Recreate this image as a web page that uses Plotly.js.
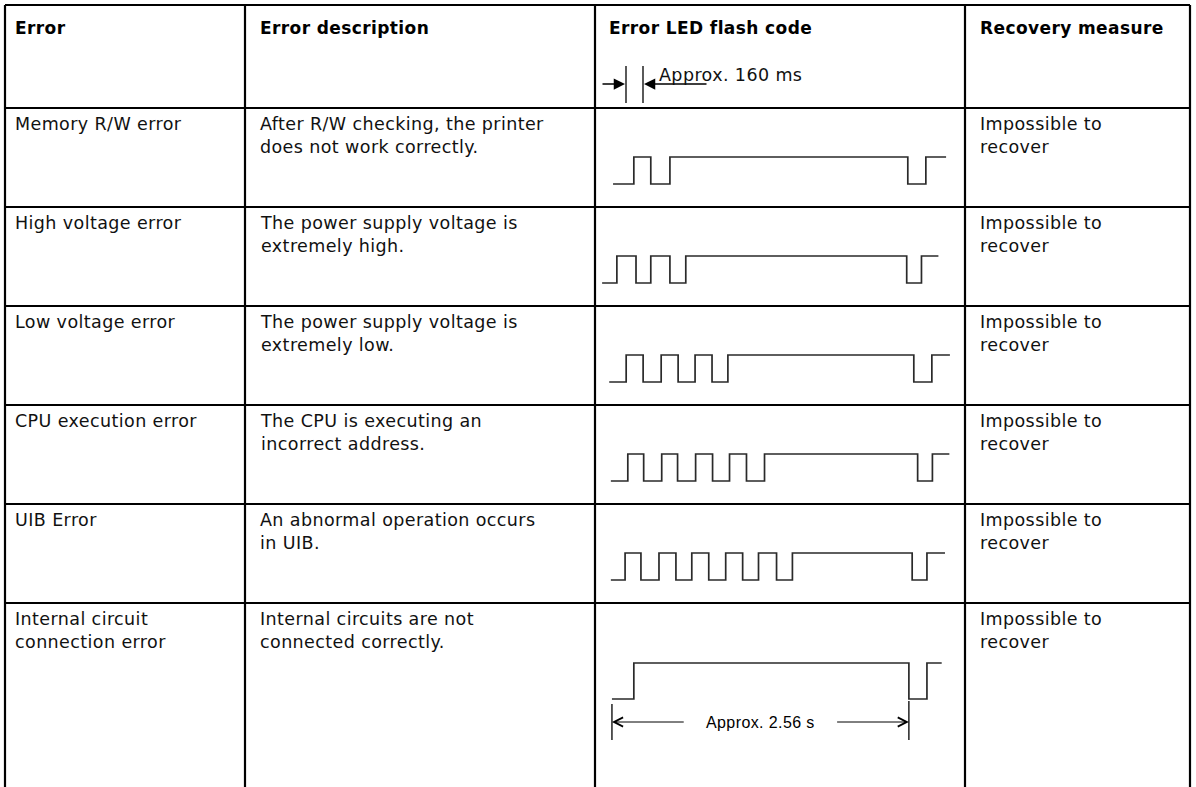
<!DOCTYPE html>
<html><head><meta charset="utf-8">
<script src="https://cdn.plot.ly/plotly-3.0.1.min.js"></script>
<style>html,body{margin:0;padding:0;background:#fff;overflow:hidden}#chart{width:1196px;height:787px}
.annotation-text{letter-spacing:0.4px}</style>
</head><body><div id="chart"></div>
<script>
// ---------------- data ----------------
const headers = ["Error", "Error description", "Error LED flash code", "Recovery measure"];
const errorNames = ["Memory R/W error", "High voltage error", "Low voltage error", "CPU execution error", "UIB Error", "Internal circuit<br>connection error"];
const descriptions = [
  "After R/W checking, the printer<br>does not work correctly.",
  "The power supply voltage is<br>extremely high.",
  "The power supply voltage is<br>extremely low.",
  "The CPU is executing an<br>incorrect address.",
  "An abnormal operation occurs<br>in UIB.",
  "Internal circuits are not<br>connected correctly."
];
const recovery = ["Impossible to<br>recover", "Impossible to<br>recover", "Impossible to<br>recover", "Impossible to<br>recover", "Impossible to<br>recover", "Impossible to<br>recover"];
// LED flash codes: start time (ms) and alternating segment durations (ms), starting LOW
const waveStartMs = [165, 65, 130, 145, 145, 155];
const memoryRW = [190, 155, 175, 2175, 165, 185];
const highVoltage = [135, 175, 135, 175, 145, 2020, 135, 155];
const lowVoltage = [155, 155, 165, 155, 155, 155, 145, 1700, 165, 165];
const cpuExecution = [155, 145, 165, 145, 165, 155, 155, 155, 165, 1400, 135, 155];
const uibError = [130, 145, 165, 155, 145, 155, 155, 155, 145, 165, 145, 1095, 135, 165];
const internalCircuit = [200, 2515, 165, 135];
const flashCodes = [memoryRW, highVoltage, lowVoltage, cpuExecution, uibError, internalCircuit];
const unitLabel = "Approx. 160 ms";
const periodLabel = "Approx. 2.56 s";

// ---------------- geometry (layout only) ----------------
const W = 1196, H = 787;
const colX = [5, 245, 595, 965, 1190];
const textX = [13, 258, 607, 978];
const topY = 5;
const rowY = [108, 207, 306, 405, 504, 603];
const waveHighPx = [157, 256, 355, 454, 553, 663];
const waveLowPx  = [184, 283, 382, 481, 580, 699];
const ledRangeMs = 3383; // width of LED column in ms
const FONT = "DejaVu Sans, Verdana, sans-serif";
const FS = 17.5;

const traces = [];
const layout = {
  width: W, height: H, margin: {l: 0, r: 0, t: 0, b: 0},
  paper_bgcolor: "#fff", plot_bgcolor: "rgba(0,0,0,0)",
  showlegend: false, dragmode: false, hovermode: false,
  xaxis: {range: [0, W], visible: false, domain: [0, 1], fixedrange: true},
  yaxis: {range: [H, 0], visible: false, domain: [0, 1], fixedrange: true},
  shapes: [], annotations: []
};

// table lines
const lineStyle = {color: "#000", width: 2.2};
layout.shapes.push({type: "line", xref: "x", yref: "y", x0: colX[0], x1: colX[4], y0: topY, y1: topY, line: lineStyle});
rowY.forEach(y => layout.shapes.push({type: "line", xref: "x", yref: "y", x0: colX[0], x1: colX[4], y0: y, y1: y, line: lineStyle}));
colX.forEach(x => layout.shapes.push({type: "line", xref: "x", yref: "y", x0: x, x1: x, y0: topY, y1: H + 2, line: lineStyle}));

// header text
headers.forEach((h, i) => layout.annotations.push({
  xref: "x", yref: "y", x: textX[i], y: topY + 23, xanchor: "left", yanchor: "middle",
  text: "<b>" + h + "</b>", showarrow: false, font: {family: FONT, size: 17, color: "#000"}
}));

// body text
function cellText(col, r, txt) {
  layout.annotations.push({
    xref: "x", yref: "y", x: textX[col], y: rowY[r] + 4, xanchor: "left", yanchor: "top",
    text: txt, showarrow: false, align: "left", font: {family: FONT, size: FS, color: "#111"}
  });
}
errorNames.forEach((t, r) => cellText(0, r, t));
descriptions.forEach((t, r) => cellText(1, r, t));
recovery.forEach((t, r) => cellText(3, r, t));

// waveforms
flashCodes.forEach((segs, r) => {
  const k = r + 2;
  const xs = [waveStartMs[r]], ys = [0];
  let t = waveStartMs[r], lvl = 0;
  segs.forEach((d, i) => {
    t += d; lvl = 1 - lvl;
    if (i < segs.length - 1) { xs.push(t); ys.push(lvl); }
    else { xs.push(t); ys.push(1 - lvl); }
  });
  const amp = waveLowPx[r] - waveHighPx[r], pad = 6;
  layout["xaxis" + k] = {domain: [colX[2] / W, colX[3] / W], range: [0, ledRangeMs], visible: false, anchor: "y" + k, fixedrange: true};
  layout["yaxis" + k] = {domain: [1 - (waveLowPx[r] + pad) / H, 1 - (waveHighPx[r] - pad) / H], range: [-pad / amp, 1 + pad / amp], visible: false, anchor: "x" + k, fixedrange: true};
  traces.push({type: "scatter", mode: "lines", x: xs, y: ys, xaxis: "x" + k, yaxis: "y" + k,
    line: {shape: "hv", color: "#2a2a2a", width: 1.7}, hoverinfo: "skip"});
});

// header 160 ms marker
const thin = {color: "#000", width: 1.3};
layout.shapes.push({type: "line", xref: "x", yref: "y", x0: 626, x1: 626, y0: 66, y1: 103, line: thin});
layout.shapes.push({type: "line", xref: "x", yref: "y", x0: 643, x1: 643, y0: 66, y1: 103, line: thin});
layout.annotations.push({xref: "x", yref: "y", x: 625, y: 84, ax: 601, ay: 84, axref: "x", ayref: "y", text: "", showarrow: true, arrowhead: 2, arrowsize: 1.5, arrowwidth: 1.5, arrowcolor: "#000"});
layout.annotations.push({xref: "x", yref: "y", x: 644, y: 84, ax: 708, ay: 84, axref: "x", ayref: "y", text: "", showarrow: true, arrowhead: 2, arrowsize: 1.5, arrowwidth: 1.5, arrowcolor: "#000"});
layout.annotations.push({xref: "x", yref: "y", x: 657, y: 75, xanchor: "left", yanchor: "middle", text: unitLabel, showarrow: false, font: {family: FONT, size: FS, color: "#111"}});

// 2.56 s marker in last row, tied to the row's own time axis
const r6 = 5, k6 = "x" + (r6 + 2);
const t6Start = waveStartMs[r6];
const t6Fall = waveStartMs[r6] + internalCircuit[0] + internalCircuit[1];
const arrowY = 722;
layout.shapes.push({type: "line", xref: k6, yref: "y", x0: t6Start, x1: t6Start, y0: 704, y1: 740, line: thin});
layout.shapes.push({type: "line", xref: k6, yref: "y", x0: t6Fall, x1: t6Fall, y0: 701, y1: 740, line: thin});
const tMid = (t6Start + t6Fall) / 2;
layout.annotations.push({xref: k6, yref: "y", x: t6Start, y: arrowY, ax: t6Start + 670, ay: arrowY, axref: k6, ayref: "y", text: "", showarrow: true, arrowhead: 5, arrowsize: 1.8, arrowwidth: 1, arrowcolor: "#000"});
layout.annotations.push({xref: k6, yref: "y", x: t6Fall, y: arrowY, ax: t6Fall - 670, ay: arrowY, axref: k6, ayref: "y", text: "", showarrow: true, arrowhead: 5, arrowsize: 1.8, arrowwidth: 1, arrowcolor: "#000"});
layout.annotations.push({xref: k6, yref: "y", x: tMid, y: arrowY, xanchor: "center", yanchor: "middle", text: periodLabel, showarrow: false,
  font: {family: "Liberation Sans Narrow, Liberation Sans, Arial, sans-serif", size: 16, color: "#000"}});

Plotly.newPlot("chart", traces, layout, {staticPlot: true, displayModeBar: false});
</script></body></html>
